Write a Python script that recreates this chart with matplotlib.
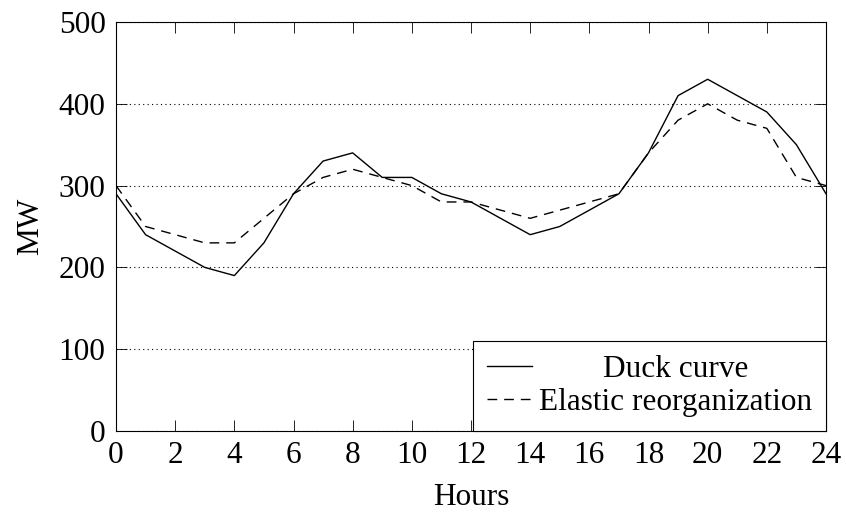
import numpy as np
import matplotlib
matplotlib.use("Agg")
import matplotlib.pyplot as plt
from matplotlib import rcParams

rcParams['font.family'] = ['Liberation Serif', 'DejaVu Serif']
rcParams['font.size'] = 22.5
rcParams['axes.linewidth'] = 0.8

# ----------------------------------------------------------------------
#                                 data                                  |
# ----------------------------------------------------------------------
hours = list(range(25))
duck = [290, 240, 220, 200, 190, 230, 290, 330, 340, 310, 310, 290, 280,
        260, 240, 250, 270, 290, 340, 410, 430, 410, 390, 350, 290]
elastic = [300, 250, 240, 230, 230, 260, 290, 310, 320, 310, 300, 280, 280,
           270, 260, 270, 280, 290, 340, 380, 400, 380, 370, 310, 300]
xticks = list(range(0, 25, 2))
yticks = [0, 100, 200, 300, 400, 500]

# ----------------------------------------------------------------------
#                                 plot                                  |
# ----------------------------------------------------------------------
fig = plt.figure(figsize=(8.46, 5.12), dpi=100)
ax = fig.add_axes([116 / 846, 1 - 431 / 512, 710 / 846, 409 / 512])

ax.plot(hours, duck, color='black', lw=1.0, label='Duck curve')
ax.plot(hours, elastic, color='black', lw=1.0, linestyle=(0, (7, 5)),
        label='Elastic reorganization')

ax.set_xlim(0, 24)
ax.set_ylim(0, 500)
ax.set_xticks(xticks)
ax.set_yticks(yticks)
ax.yaxis.grid(True, linestyle=(0, (1, 3)), color='black', lw=0.8)
ax.tick_params(direction='in', length=8, width=0.6, top=True, right=True,
               pad=7.5)
ax.set_xlabel('Hours', labelpad=9)
ax.set_ylabel('MW', labelpad=10)

leg = ax.legend(loc='lower right', frameon=True, fancybox=False,
                edgecolor='black', framealpha=1, borderaxespad=0,
                handlelength=1.45, handletextpad=0.22, labelspacing=0.12,
                borderpad=0.45)
leg.get_frame().set_linewidth(0.8)

# center the shorter legend entry like pgfplots does
fig.canvas.draw()
w0 = leg.texts[0].get_window_extent().width
w1 = leg.texts[1].get_window_extent().width
leg.texts[0].set_x((w1 - w0) / 2)

fig.savefig('out.png', dpi=100)
